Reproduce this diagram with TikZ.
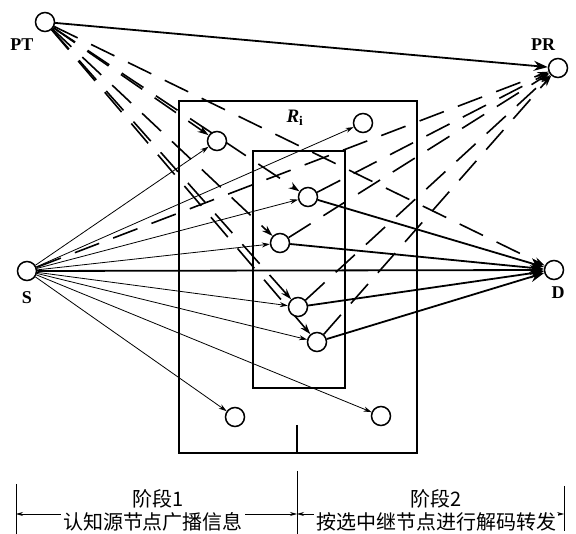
\documentclass[tikz,border=0pt]{standalone}
\usepackage{fontspec}
\setmainfont{Liberation Serif}
\newfontfamily\cjk{Noto Sans CJK SC}
\usepackage{tikz}
\usetikzlibrary{shapes,arrows,positioning,calc,arrows.meta,backgrounds}

\begin{document}
\begin{tikzpicture}[x=1pt, y=-1pt,
    every node/.style={inner sep=0pt},
    term/.style={circle, draw, fill=white, line width=1.5pt, minimum size=19pt},
    lab/.style={font=\bfseries\fontsize{18}{18}\selectfont},
    cn/.style={font=\cjk\fontsize{20}{20}\selectfont},
    box/.style={line width=1.5pt},
    weak/.style={line width=0.8pt, -{Stealth[length=8pt,width=5pt]}},
    strong/.style={line width=1.8pt, -{Stealth[length=14pt,width=10pt]}},
    intf/.style={line width=1.6pt, dash pattern=on 26pt off 15pt, -{Stealth[length=11pt,width=7pt]}},
    span/.style={line width=0.8pt, {Stealth[length=7pt,width=4pt]}-{Stealth[length=7pt,width=4pt]}}]
    \useasboundingbox (0,0) rectangle (576,534);

    % terminals
    \node[term] (pt) at (45,22) {};
    \node[term] (pr) at (558,68) {};
    \node[term] (s) at (27,271) {};
    \node[term] (d) at (554,270) {};
    \node[lab] (ptlab) at (22,45) {PT};
    \node[lab] (prlab) at (543,45) {PR};
    \node[lab] (slab) at (27,298) {S};
    \node[lab] (dlab) at (558,293) {D};

    % relay areas
    \draw[box] (179,101) rectangle (417,453);
    \draw[box] (253,151) rectangle (345,388);
    \draw[box] (297,425) -- (297,453);
    \node[font=\fontsize{19}{19}\selectfont] (ri) at (295,118) {\textbf{\textit{R}}\textsubscript{\bfseries i}};

    % candidate relays
    \node[term] (r1) at (217,141) {};
    \node[term] (r2) at (363,123) {};
    \node[term] (r3) at (308,197) {};
    \node[term] (r4) at (280,243) {};
    \node[term] (r5) at (298,307) {};
    \node[term] (r6) at (317,342) {};
    \node[term] (r7) at (235,417) {};
    \node[term] (r8) at (381,416) {};

    \begin{scope}[on background layer]
        % stage 1: broadcast
        \foreach \r in {r1,r2,r3,r4,r5,r6,r7,r8}
            \draw[weak] (s) -- (\r);
        \draw[strong] (s) -- (d);
        % stage 2: forwarding
        \foreach \r in {r3,r4,r5,r6}
            \draw[strong] (\r) -- (d);
        \draw[strong] (pt) -- (pr);
        % interference
        \foreach \r in {r1,r3,r4,r5,r6,d}
            \draw[intf] (pt) -- (\r);
        \foreach \r in {s,r3,r4,r5,r6}
            \draw[intf] (\r) -- (pr);
    \end{scope}

    % stages
    \coordinate (a) at (16,514);
    \coordinate (b) at (297,514);
    \coordinate (c) at (564,514);
    \draw[line width=1pt] (16,484) -- (16,534);
    \draw[line width=1pt] (297,471) -- (297,534);
    \draw[line width=1pt] (564,486) -- (564,531);
    \draw[span] (a) -- (b);
    \draw[span] (b) -- (c);
    \node[cn] (st1) at (158,499) {阶段1};
    \node[cn] (st2) at (436,499) {阶段2};
    \node[cn, fill=white, inner xsep=2pt] (tx1) at (153,522) {认知源节点广播信息};
    \node[cn, fill=white, inner xsep=2pt] (tx2) at (436,522) {按选中继节点进行解码转发};
\end{tikzpicture}
\end{document}
